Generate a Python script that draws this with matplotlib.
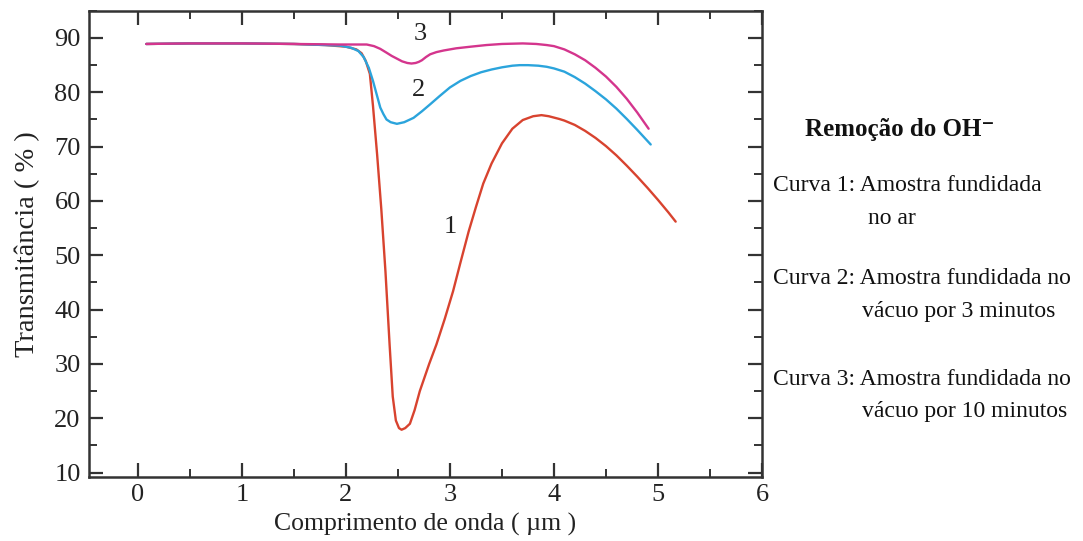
import matplotlib
matplotlib.use("Agg")
import matplotlib.pyplot as plt
from matplotlib.ticker import MultipleLocator

# ---- data ----
x1 = [0.08, 0.5, 1.0, 1.5, 1.8, 2.0, 2.1, 2.15, 2.19, 2.23, 2.26, 2.30, 2.34, 2.38, 2.42, 2.45,
      2.48, 2.51, 2.535, 2.57, 2.615, 2.66, 2.71, 2.8, 2.87, 2.95, 3.03, 3.1, 3.18, 3.25, 3.32,
      3.4, 3.5, 3.6, 3.7, 3.8, 3.88, 3.95, 4.05, 4.1, 4.2, 4.3, 4.4, 4.5, 4.6, 4.7, 4.8, 4.9,
      5.0, 5.1, 5.17]
y1 = [88.9, 89.0, 89.0, 88.9, 88.7, 88.4, 87.9, 87.2, 85.8, 83.4, 77.5, 68.5, 58.5, 47.0, 33.5, 24.0,
      19.6, 18.2, 17.9, 18.2, 19.0, 21.5, 25.0, 30.0, 33.6, 38.3, 43.4, 48.6, 54.4, 58.9, 63.2,
      66.9, 70.6, 73.3, 74.9, 75.6, 75.8, 75.6, 75.1, 74.8, 74.0, 72.9, 71.6, 70.1, 68.4, 66.5,
      64.5, 62.4, 60.2, 57.9, 56.2]

x2 = [0.08, 0.5, 1.0, 1.5, 1.8, 1.94, 2.05, 2.12, 2.17, 2.22, 2.26, 2.30, 2.33, 2.36, 2.39, 2.43,
      2.49, 2.56, 2.65, 2.73, 2.81, 2.9, 3.0, 3.1, 3.2, 3.3, 3.4, 3.5, 3.6, 3.67, 3.75, 3.85,
      3.93, 4.0, 4.1, 4.2, 4.3, 4.4, 4.5, 4.6, 4.7, 4.8, 4.93]
y2 = [88.9, 89.0, 89.0, 88.9, 88.7, 88.6, 88.2, 87.6, 86.5, 84.5, 82.1, 79.3, 77.2, 76.0, 75.0, 74.5,
      74.2, 74.5, 75.3, 76.5, 77.8, 79.3, 80.9, 82.1, 83.0, 83.7, 84.2, 84.6, 84.9, 85.0, 85.0, 84.9,
      84.7, 84.4, 83.8, 82.8, 81.6, 80.2, 78.7, 77.0, 75.1, 73.1, 70.4]

x3 = [0.08, 0.5, 1.0, 1.5, 1.94, 2.1, 2.2, 2.27, 2.33, 2.39, 2.44, 2.49, 2.54, 2.59, 2.63, 2.67,
      2.70, 2.73, 2.77, 2.81, 2.87, 2.94, 3.06, 3.2, 3.35, 3.5, 3.7, 3.83, 3.93, 4.0, 4.1, 4.2,
      4.3, 4.4, 4.5, 4.6, 4.7, 4.8, 4.91]
y3 = [88.9, 89.0, 89.0, 88.9, 88.8, 88.8, 88.8, 88.5, 88.0, 87.3, 86.7, 86.2, 85.7, 85.4, 85.3, 85.4,
      85.6, 85.9, 86.5, 87.0, 87.4, 87.7, 88.1, 88.4, 88.7, 88.9, 89.0, 88.9, 88.7, 88.5, 87.9, 87.0,
      85.9, 84.5, 82.9, 81.0, 78.8, 76.3, 73.3]

curve_labels = ["1", "2", "3"]
curve_label_pos = [(3.0, 55.3), (2.70, 80.4), (2.71, 90.8)]

xticks = [0, 1, 2, 3, 4, 5, 6]
yticks = [10, 20, 30, 40, 50, 60, 70, 80, 90]

legend_title = "Remoção do OH\u207b"
legend_lines = [
    ("Curva 1: Amostra fundidada", 0.7138, 0.658),
    ("no ar", 0.8015, 0.597),
    ("Curva 2: Amostra fundidada no", 0.7138, 0.486),
    ("vácuo por 3 minutos", 0.7960, 0.425),
    ("Curva 3: Amostra fundidada no", 0.7138, 0.298),
    ("vácuo por 10 minutos", 0.7960, 0.239),
]

colors = ["#d8432f", "#2ba4dc", "#d4358d"]

serif = ["Liberation Serif", "DejaVu Serif"]
plt.rcParams["font.family"] = serif

fig = plt.figure(figsize=(10.83, 5.41), dpi=100)
ax = fig.add_axes([0.0822, 0.1183, 0.7036 - 0.0822, 0.980 - 0.1183])

for xs, ys, c in zip([x1, x2, x3], [y1, y2, y3], colors):
    ax.plot(xs, ys, color=c, lw=1.7, solid_capstyle="round", solid_joinstyle="round")

for lab, (lx, ly) in zip(curve_labels, curve_label_pos):
    ax.text(lx, ly, lab, fontsize=19, ha="center", va="center", color="#222222")

ax.set_xlim(-0.47, 6.0)
ax.set_ylim(9.2, 95)
ax.set_xticks(xticks)
ax.set_yticks(yticks)
ax.xaxis.set_minor_locator(MultipleLocator(0.5))
ax.yaxis.set_minor_locator(MultipleLocator(5))
ax.tick_params(which="both", direction="in", top=True, right=True, colors="#333333",
               labelcolor="#222222", labelsize=19)
ax.tick_params(which="major", length=10, width=1.6)
ax.tick_params(which="minor", length=6, width=1.4)
ax.tick_params(axis="x", pad=5)
ax.tick_params(axis="y", pad=6)
for s in ax.spines.values():
    s.set_linewidth(1.8)
    s.set_color("#333333")

ax.set_xlabel("Comprimento de onda ( µm )", fontsize=18.5, color="#222222", labelpad=5)
ax.set_ylabel("Transmitância ( % )", fontsize=20.5, color="#222222", labelpad=10)

fig.text(0.7433, 0.760, legend_title, fontsize=18, fontweight="bold", ha="left", va="center",
         color="#111111")
for t, tx, ty in legend_lines:
    fig.text(tx, ty, t, fontsize=17, ha="left", va="center", color="#111111")

fig.savefig("out.png", dpi=100, facecolor="white")
